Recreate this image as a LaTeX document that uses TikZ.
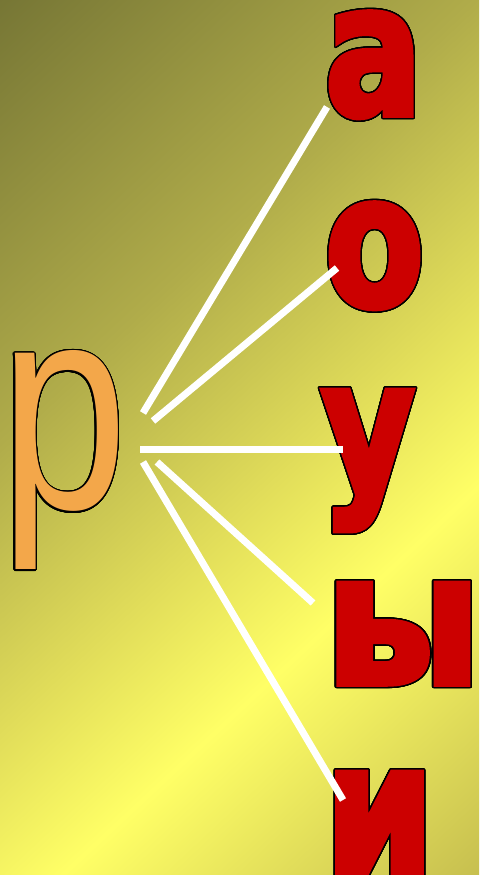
\documentclass[tikz,border=0pt]{standalone}
\usepackage{graphicx}
\usepackage{fontspec}
\usepackage{contour}
\usetikzlibrary{positioning}

\newfontfamily\erfont{Liberation Sans}[FakeStretch=0.78]
\newfontfamily\vowelfont{DejaVu Sans Bold}[FakeStretch=0.78,FakeBold=3]
\contourlength{1.4pt}
\contournumber{32}

\definecolor{bgdark}{RGB}{116,116,52}
\definecolor{bgmid}{RGB}{176,172,74}
\definecolor{bglight}{RGB}{226,222,90}
\definecolor{bgpeak}{RGB}{255,255,102}
\definecolor{bgend}{RGB}{196,188,78}
\definecolor{vowelred}{RGB}{204,0,0}
\definecolor{erorange}{RGB}{243,167,74}

\pgfdeclarehorizontalshading{backdrop}{100bp}{color(0bp)=(bgdark); color(25bp)=(bgdark);
  color(42bp)=(bgmid); color(53bp)=(bglight); color(60bp)=(bgpeak); color(75bp)=(bgend);
  color(100bp)=(bgend)}

\begin{document}
\begin{tikzpicture}[x=1pt, y=1pt,
    vowel/.style={anchor=base west, inner sep=0pt, text=vowelred,
      font=\vowelfont\fontsize{184}{184}\selectfont},
    spoke/.style={white, line width=7pt}]
  \useasboundingbox (0,0) rectangle (479,875);
  \begin{scope}
    \clip (0,0) rectangle (479,875);
    \shade[shading=backdrop, shading angle=-47] (-260.5,-62.5) rectangle (739.5,937.5);
  \end{scope}

  % the consonant
  \node[anchor=base west, inner sep=0pt, text=erorange,
    font=\erfont\fontsize{294}{294}\selectfont] (er) at (0,366) {\contour{black}{р}};

  % the vowels
  \node[vowel] (va) at (325,760) {\contour{black}{а}};
  \node[vowel] (vo) at (325,569) {\contour{black}{о}};
  \node[vowel] (vu) at (321,384) {\contour{black}{у}};
  \node[vowel] (vy) at (325,191) {\scalebox{1.2}[1]{\contour{black}{ы}}};
  \node[vowel] (vi) at (325,2) {\scalebox{1.08}[1]{\contour{black}{и}}};

  % spoke ends
  \coordinate (s1) at (143,462);
  \coordinate (s2) at (153,454);
  \coordinate (s3) at (140,425);
  \coordinate (s4) at (157,413);
  \coordinate (s5) at (143,413);
  \coordinate (e1) at (327,768);
  \coordinate (e2) at (337,607);
  \coordinate (e3) at (343,425);
  \coordinate (e4) at (313,272);
  \coordinate (e5) at (343,75);

  \draw[spoke] (s1) -- (e1);
  \draw[spoke] (s2) -- (e2);
  \draw[spoke] (s3) -- (e3);
  \draw[spoke] (s4) -- (e4);
  \draw[spoke] (s5) -- (e5);
\end{tikzpicture}
\end{document}
